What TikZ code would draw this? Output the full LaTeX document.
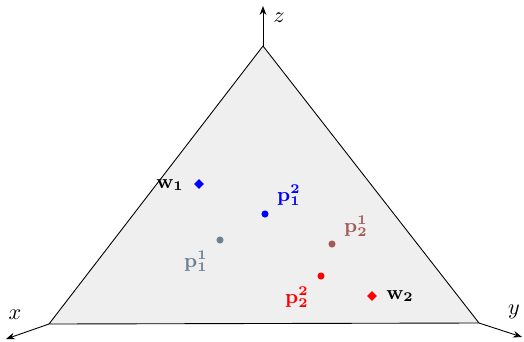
\documentclass[tikz,border=0pt]{standalone}
\usetikzlibrary{arrows.meta, positioning, shapes.geometric}
\definecolor{simplexfill}{HTML}{EFEFEF}
\definecolor{ptgray}{RGB}{112,128,144}
\definecolor{ptbrown}{RGB}{166,89,89}

\begin{document}
\begin{tikzpicture}[x=0.45pt, y=-0.45pt,
  dot/.style={circle, fill, inner sep=0pt, minimum size=3.2pt},
  wmark/.style={diamond, fill, inner sep=0pt, minimum size=4.6pt},
  lbl/.style={font=\small, inner sep=0pt},
  axis/.style={-{Stealth[length=4pt,width=3pt]}, thin}]
  \useasboundingbox (0,0) rectangle (524,341);

  % Simplex
  \coordinate (vz) at (263,46);
  \coordinate (vx) at (49,324);
  \coordinate (vy) at (479,323);
  \fill[simplexfill] (vz) -- (vx) -- (vy) -- cycle;
  \draw[thin] (vz) -- (vx) -- (vy) -- cycle;

  % Axes
  \coordinate (ez) at (263,6);
  \coordinate (ex) at (6,339);
  \coordinate (ey) at (522,337);
  \draw[axis] (vz) -- (ez);
  \draw[axis] (vx) -- (ex);
  \draw[axis] (vy) -- (ey);
  \node (lz) at (279,18) {$z$};
  \node (lx) at (15,315) {$x$};
  \node (ly) at (514,312) {$y$};

  % Points
  \node[wmark, blue] (w1) at (199,184) {};
  \node[wmark, red] (w2) at (372,296) {};
  \node[dot, blue] (p12) at (265,214) {};
  \node[dot, ptgray] (p11) at (220,240) {};
  \node[dot, ptbrown] (p21) at (332,244) {};
  \node[dot, red] (p22) at (321,276) {};

  % Labels
  \node[lbl] (lw1) at (170,185) {$\mathbf{w_1}$};
  \node[lbl] (lw2) at (400,296) {$\mathbf{w_2}$};
  \node[lbl, blue] (lp12) at (289,195) {$\mathbf{p_1^2}$};
  \node[lbl, ptgray] (lp11) at (196,261) {$\mathbf{p_1^1}$};
  \node[lbl, ptbrown] (lp21) at (356,226) {$\mathbf{p_2^1}$};
  \node[lbl, red] (lp22) at (297,297) {$\mathbf{p_2^2}$};

\end{tikzpicture}
\end{document}
